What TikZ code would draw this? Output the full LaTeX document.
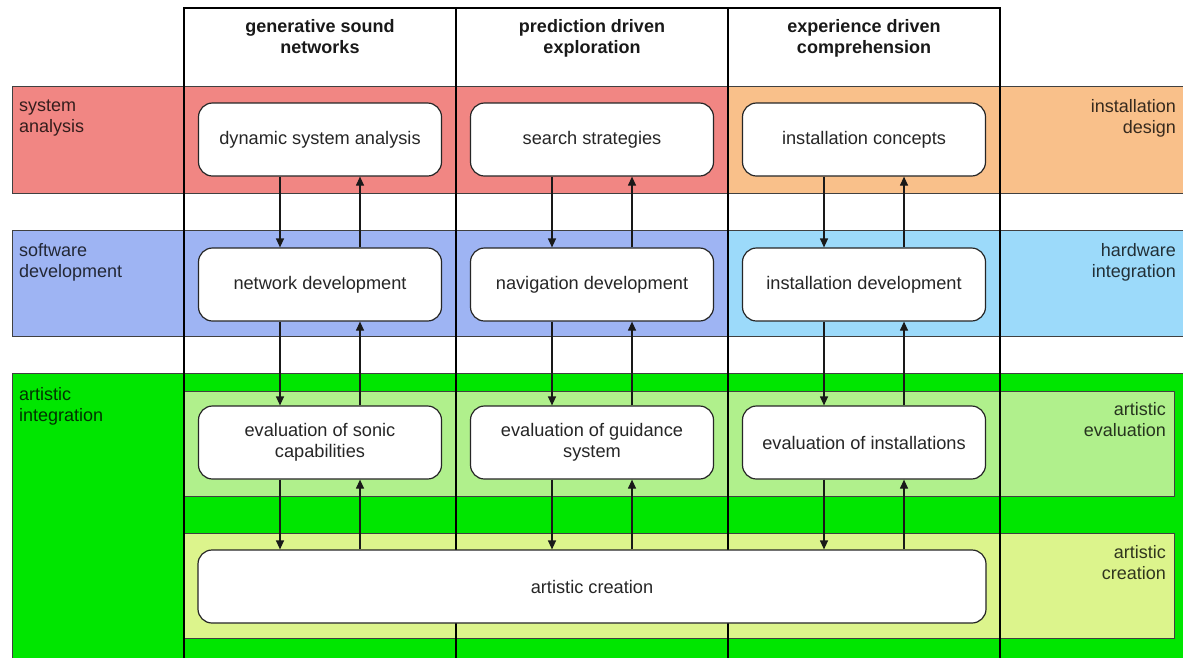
\documentclass[tikz,border=0pt]{standalone}
\usepackage{fontspec}
\setmainfont{Liberation Sans}
\usetikzlibrary{arrows.meta}
\definecolor{bred}{RGB}{241,134,131}
\definecolor{borange}{RGB}{249,192,138}
\definecolor{bblue}{RGB}{158,180,243}
\definecolor{blblue}{RGB}{156,218,250}
\definecolor{bgreen}{RGB}{0,230,0}
\definecolor{blgreen}{RGB}{176,240,140}
\definecolor{byellow}{RGB}{220,244,140}
\begin{document}
\begin{tikzpicture}[x=1pt,y=-1pt,
  bandline/.style={draw=black!75, line width=0.8pt},
  colline/.style={draw=black, line width=2.6pt},
  box/.style={draw=black!85, line width=1.2pt, fill=white, rounded corners=14pt,
    minimum width=243pt, minimum height=73pt, align=center, inner sep=0pt,
    font=\fontsize{18.2}{21}\selectfont, text=black!85},
  head/.style={align=center, font=\fontsize{18}{21}\selectfont\bfseries, text=black!90},
  lab/.style={font=\fontsize{18}{21}\selectfont, text=black, text opacity=0.78, inner sep=0pt},
  labl/.style={lab, align=left, anchor=north west},
  labr/.style={lab, align=right, anchor=north east},
  arr/.style={line width=1.2pt, draw=black!90, -{Triangle[length=9pt,width=8pt]}}
]
\useasboundingbox (0,0) rectangle (1183,657);
\fill[white] (0,0) rectangle (1183,657);

% bands
\draw[bandline, fill=bred] (12,86) rectangle (728,193);
\draw[bandline, fill=borange] (728,86) rectangle (1184,193);
\draw[bandline, fill=bblue] (12,230) rectangle (728,336);
\draw[bandline, fill=blblue] (728,230) rectangle (1184,336);
\draw[bandline, fill=bgreen] (12,373) rectangle (1184,658);
\draw[bandline, fill=blgreen] (184,391) rectangle (1174,496);
\draw[bandline, fill=byellow] (184,533) rectangle (1174,638);

% columns
\draw[colline, line join=miter] (184,658) -- (184,8) -- (1000,8) -- (1000,658);
\draw[colline] (456,8) -- (456,658);
\draw[colline] (728,8) -- (728,658);

% headers
\node[head] (h1) at (320,36.5) {generative sound\\networks};
\node[head] (h2) at (592,38.5) {prediction driven\\exploration};
\node[head] (h3) at (864,38.5) {experience driven\\comprehension};

% side labels
\node[labl] (l1) at (19,100) {system\\analysis};
\node[labl] (l2) at (19,243) {software\\development};
\node[labl] (l3) at (19,387) {artistic\\integration};
\node[labr] (r1) at (1176,99) {installation\\design};
\node[labr] (r2) at (1176,243) {hardware\\integration};
\node[labr] (r3) at (1166,402) {artistic\\evaluation};
\node[labr] (r4) at (1166,545) {artistic\\creation};

% boxes
\node[box] (a1) at (320,139.5) {dynamic system analysis};
\node[box] (a2) at (592,139.5) {search strategies};
\node[box] (a3) at (864,139.5) {installation concepts};
\node[box] (b1) at (320,284.5) {network development};
\node[box] (b2) at (592,284.5) {navigation development};
\node[box] (b3) at (864,284.5) {installation development};
\node[box] (c1) at (320,442.5) {evaluation of sonic\\capabilities};
\node[box] (c2) at (592,442.5) {evaluation of guidance\\system};
\node[box] (c3) at (864,442.5) {evaluation of installations};
\node[box, minimum width=788pt] (ac) at (592,586.5) {artistic creation};

% arrows
\foreach \c in {1,2,3}{
  \draw[arr] ([xshift=-40pt]a\c.south) -- ([xshift=-40pt]b\c.north);
  \draw[arr] ([xshift=40pt]b\c.north) -- ([xshift=40pt]a\c.south);
  \draw[arr] ([xshift=-40pt]b\c.south) -- ([xshift=-40pt]c\c.north);
  \draw[arr] ([xshift=40pt]c\c.north) -- ([xshift=40pt]b\c.south);
  \draw[arr] ([xshift=-40pt]c\c.south) -- ([xshift=-40pt]c\c.south |- ac.north);
  \draw[arr] ([xshift=40pt]c\c.south |- ac.north) -- ([xshift=40pt]c\c.south);
}
\end{tikzpicture}
\end{document}
